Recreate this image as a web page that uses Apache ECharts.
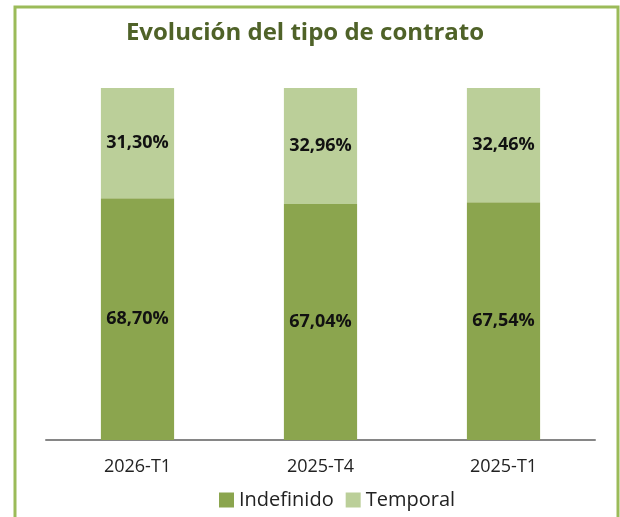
<!DOCTYPE html>
<html>
<head>
<meta charset="utf-8">
<script src="https://cdn.jsdelivr.net/npm/echarts@6/dist/echarts.min.js"></script>
<style>
  html, body { margin: 0; padding: 0; background: #ffffff; }
  #chart { width: 620px; height: 517px; }
</style>
</head>
<body>
<div id="chart"></div>
<script>
    // datos
    var categorias = ['2026-T1', '2025-T4', '2025-T1'];
    var indefinido = [68.70, 67.04, 67.54];
    var temporal = [31.30, 32.96, 32.46];

    var fuente = 'Open Sans';

    function fmtPct(p) {
        return p.value.toFixed(2).replace('.', ',') + '%';
    }

    var myChart = echarts.init(document.getElementById('chart'));

    var option = {
        backgroundColor: '#ffffff',
        animation: false,
        title: {
            text: 'Evolución del tipo de contrato',
            left: 300,
            textAlign: 'center',
            top: 16,
            textStyle: {
                color: '#4f6228',
                fontFamily: fuente,
                fontWeight: 'bold',
                fontSize: 24
            }
        },
        legend: {
            left: 214,
            bottom: 2,
            itemWidth: 15,
            itemHeight: 15,
            itemGap: 12,
            icon: 'rect',
            textStyle: {
                color: '#222222',
                fontFamily: fuente,
                fontSize: 20
            },
            data: ['Indefinido', 'Temporal']
        },
        graphic: [{
            type: 'rect',
            shape: { x: 15, y: 7, width: 603, height: 530 },
            style: { fill: 'none', stroke: '#9bbb59', lineWidth: 3 },
            silent: true
        }],
        grid: {
            left: 46,
            right: 25,
            top: 88,
            bottom: 77
        },
        xAxis: {
            type: 'category',
            data: categorias,
            axisLine: { lineStyle: { color: '#868686', width: 2 } },
            axisTick: { show: false },
            axisLabel: {
                color: '#222222',
                fontFamily: fuente,
                fontSize: 18,
                margin: 18
            }
        },
        yAxis: {
            type: 'value',
            min: 0,
            max: 100,
            show: false
        },
        series: [{
            name: 'Indefinido',
            type: 'bar',
            stack: 'total',
            barWidth: '40%',
            data: indefinido,
            itemStyle: { color: '#8ba54e' },
            label: {
                show: true,
                position: 'inside',
                formatter: fmtPct,
                color: '#111111',
                fontFamily: fuente,
                fontWeight: 'bold',
                fontSize: 18
            }
        }, {
            name: 'Temporal',
            type: 'bar',
            stack: 'total',
            barWidth: '40%',
            data: temporal,
            itemStyle: { color: '#bbcf99' },
            label: {
                show: true,
                position: 'inside',
                formatter: fmtPct,
                color: '#111111',
                fontFamily: fuente,
                fontWeight: 'bold',
                fontSize: 18
            }
        }]
    };

    myChart.setOption(option);
</script>
</body>
</html>
